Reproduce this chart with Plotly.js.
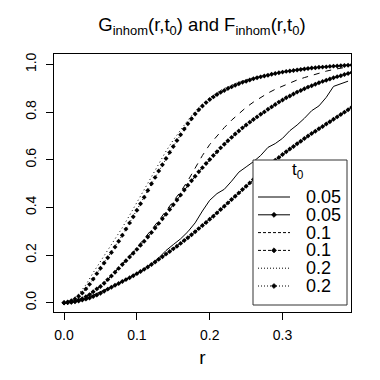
<!DOCTYPE html>
<html>
<head>
<meta charset="utf-8">
<script src="https://cdn.plot.ly/plotly-3.0.1.min.js"></script>
<style>
    html, body { margin: 0; padding: 0; background: #fff; }
    #chart { width: 380px; height: 380px; }
</style>
</head>
<body>
<div id="chart"></div>
<script>
// =======! data !=======
// distance grid for the G curves (lines only)
const r_coarse = [0.00, 0.01, 0.02, 0.03, 0.04, 0.05, 0.06, 0.07, 0.08, 0.09,
    0.10, 0.11, 0.12, 0.13, 0.14, 0.15, 0.16, 0.17, 0.18, 0.19,
    0.20, 0.21, 0.22, 0.23, 0.24, 0.25, 0.26, 0.27, 0.28, 0.29,
    0.30, 0.31, 0.32, 0.33, 0.34, 0.35, 0.36, 0.37, 0.38, 0.39];

// distance grid for the F curves (lines + points)
const r_fine = [0.000, 0.005, 0.010, 0.015, 0.020, 0.025, 0.030, 0.035, 0.040, 0.045,
    0.050, 0.055, 0.060, 0.065, 0.070, 0.075, 0.080, 0.085, 0.090, 0.095,
    0.100, 0.105, 0.110, 0.115, 0.120, 0.125, 0.130, 0.135, 0.140, 0.145,
    0.150, 0.155, 0.160, 0.165, 0.170, 0.175, 0.180, 0.185, 0.190, 0.195,
    0.200, 0.205, 0.210, 0.215, 0.220, 0.225, 0.230, 0.235, 0.240, 0.245,
    0.250, 0.255, 0.260, 0.265, 0.270, 0.275, 0.280, 0.285, 0.290, 0.295,
    0.300, 0.305, 0.310, 0.315, 0.320, 0.325, 0.330, 0.335, 0.340, 0.345,
    0.350, 0.355, 0.360, 0.365, 0.370, 0.375, 0.380, 0.385, 0.390, 0.395];

const g_005 = [0.000, 0.002, 0.008, 0.018, 0.032, 0.046, 0.058, 0.073, 0.088, 0.104,
    0.121, 0.142, 0.162, 0.188, 0.219, 0.244, 0.268, 0.298, 0.335, 0.385,
    0.430, 0.458, 0.476, 0.510, 0.548, 0.570, 0.592, 0.618, 0.652, 0.668,
    0.690, 0.722, 0.746, 0.774, 0.806, 0.826, 0.862, 0.908, 0.918, 0.930];

const g_01 = [0.000, 0.003, 0.012, 0.026, 0.046, 0.070, 0.098, 0.130, 0.163, 0.197,
    0.232, 0.268, 0.306, 0.345, 0.385, 0.425, 0.466, 0.512, 0.565, 0.618,
    0.664, 0.700, 0.735, 0.766, 0.795, 0.820, 0.842, 0.862, 0.880, 0.896,
    0.910, 0.923, 0.935, 0.945, 0.955, 0.964, 0.972, 0.979, 0.985, 0.990];

const g_02 = [0.000, 0.010, 0.036, 0.075, 0.126, 0.172, 0.218, 0.265, 0.315, 0.367,
    0.421, 0.477, 0.531, 0.584, 0.636, 0.683, 0.726, 0.766, 0.803, 0.834,
    0.860, 0.882, 0.900, 0.914, 0.926, 0.936, 0.945, 0.953, 0.960, 0.966,
    0.971, 0.976, 0.980, 0.984, 0.987, 0.990, 0.992, 0.994, 0.996, 0.998];

const f_005 = [0.000, 0.001, 0.002, 0.004, 0.007, 0.011, 0.015, 0.020, 0.026, 0.032,
    0.040, 0.048, 0.057, 0.065, 0.073, 0.081, 0.089, 0.097, 0.105, 0.113,
    0.122, 0.131, 0.140, 0.150, 0.160, 0.171, 0.182, 0.193, 0.204, 0.215,
    0.226, 0.237, 0.249, 0.261, 0.273, 0.285, 0.298, 0.311, 0.324, 0.337,
    0.350, 0.363, 0.377, 0.391, 0.405, 0.419, 0.433, 0.447, 0.461, 0.475,
    0.489, 0.503, 0.517, 0.531, 0.545, 0.559, 0.572, 0.585, 0.598, 0.610,
    0.622, 0.634, 0.645, 0.656, 0.667, 0.678, 0.689, 0.700, 0.710, 0.720,
    0.730, 0.740, 0.750, 0.760, 0.770, 0.780, 0.790, 0.800, 0.810, 0.820];

const f_01 = [0.000, 0.001, 0.003, 0.006, 0.011, 0.017, 0.025, 0.034, 0.046, 0.058,
    0.068, 0.082, 0.097, 0.112, 0.128, 0.144, 0.160, 0.176, 0.192, 0.208,
    0.224, 0.241, 0.258, 0.276, 0.295, 0.314, 0.333, 0.352, 0.371, 0.391,
    0.411, 0.431, 0.452, 0.473, 0.493, 0.512, 0.531, 0.550, 0.567, 0.584,
    0.601, 0.618, 0.634, 0.650, 0.665, 0.680, 0.694, 0.708, 0.721, 0.734,
    0.746, 0.758, 0.769, 0.780, 0.791, 0.801, 0.812, 0.822, 0.832, 0.842,
    0.851, 0.860, 0.868, 0.876, 0.884, 0.891, 0.898, 0.905, 0.911, 0.917,
    0.923, 0.929, 0.934, 0.939, 0.944, 0.949, 0.953, 0.958, 0.962, 0.966];

const f_02 = [0.000, 0.003, 0.008, 0.016, 0.027, 0.041, 0.058, 0.077, 0.099, 0.122,
    0.145, 0.167, 0.189, 0.211, 0.234, 0.258, 0.283, 0.309, 0.335, 0.361,
    0.388, 0.415, 0.443, 0.471, 0.499, 0.526, 0.553, 0.579, 0.605, 0.631,
    0.656, 0.681, 0.705, 0.729, 0.751, 0.772, 0.792, 0.810, 0.826, 0.840,
    0.853, 0.864, 0.874, 0.883, 0.891, 0.899, 0.906, 0.913, 0.919, 0.925,
    0.930, 0.935, 0.940, 0.944, 0.948, 0.952, 0.955, 0.959, 0.962, 0.965,
    0.968, 0.971, 0.973, 0.975, 0.977, 0.979, 0.981, 0.983, 0.985, 0.986,
    0.988, 0.989, 0.990, 0.992, 0.993, 0.994, 0.995, 0.996, 0.997, 0.998];

const legend_labels = ['0.05', '0.05', '0.1', '0.1', '0.2', '0.2'];
const x_ticks = [0, 0.1, 0.2, 0.3];
const x_tick_text = ['0.0', '0.1', '0.2', '0.3'];
const y_ticks = [0, 0.2, 0.4, 0.6, 0.8, 1.0];
const y_tick_text = ['0.0', '0.2', '0.4', '0.6', '0.8', '1.0'];

// =======! styles !=======
const FONT = '"Liberation Sans", Arial, Helvetica, sans-serif';
const DASHES = ['solid', '6px,6px', '1px,3px'];
const LEGEND_DASHES = ['solid', '3px,2px', '1px,2px'];

const W = 380, H = 380;
const M = {l: 54, r: 29, t: 54, b: 68};
const PW = W - M.l - M.r;
const PH = H - M.t - M.b;

// pixel -> paper coords (for the hand made legend)
const px = x => (x - M.l) / PW;
const py = y => (H - M.b - y) / PH;

const g_line = (x, y, dash) => ({
    x: x, y: y,
    type: 'scatter', mode: 'lines',
    line: {color: 'black', width: 1, dash: dash},
    showlegend: false
});

const f_points = (x, y, dash) => ({
    x: x, y: y,
    type: 'scatter', mode: 'lines+markers',
    line: {color: 'black', width: 1, dash: dash},
    marker: {symbol: 'diamond', size: 3.8, color: 'black'},
    showlegend: false
});

const traces = [
    g_line(r_coarse, g_005, DASHES[0]),
    f_points(r_fine, f_005, DASHES[0]),
    g_line(r_coarse, g_01, DASHES[1]),
    f_points(r_fine, f_01, DASHES[1]),
    g_line(r_coarse, g_02, DASHES[2]),
    f_points(r_fine, f_02, DASHES[2])
];

// =======! legend (R style: tight rows) !=======
const shapes = [{
    type: 'rect', xref: 'paper', yref: 'paper',
    x0: px(253), x1: px(347), y0: py(305), y1: py(160),
    line: {color: '#333', width: 1}, fillcolor: 'white', layer: 'above'
}];
const annotations = [{
    text: 't<sub>0</sub>', xref: 'paper', yref: 'paper',
    x: px(298), y: py(171), xanchor: 'center', yanchor: 'middle',
    showarrow: false, font: {family: FONT, size: 17, color: 'black'}
}];

const ROW0 = 197, ROW_STEP = 17.8;
legend_labels.forEach((label, i) => {
    const yy = ROW0 + i * ROW_STEP;
    shapes.push({
        type: 'line', xref: 'paper', yref: 'paper', layer: 'above',
        x0: px(258), x1: px(290), y0: py(yy), y1: py(yy),
        line: {color: 'black', width: 1, dash: LEGEND_DASHES[Math.floor(i / 2)]}
    });
    if (i % 2 === 1) {
        const cx = 274, d = 2.6;
        shapes.push({
            type: 'path', xref: 'paper', yref: 'paper', layer: 'above',
            path: 'M' + px(cx) + ',' + py(yy - d) + ' L' + px(cx + d) + ',' + py(yy) +
                ' L' + px(cx) + ',' + py(yy + d) + ' L' + px(cx - d) + ',' + py(yy) + ' Z',
            fillcolor: 'black', line: {color: 'black', width: 0.5}
        });
    }
    annotations.push({
        text: label, xref: 'paper', yref: 'paper',
        x: px(304), y: py(yy), xanchor: 'left', yanchor: 'middle',
        showarrow: false, font: {family: FONT, size: 18, color: 'black'}
    });
});

const axis_common = {
    showgrid: false,
    zeroline: false,
    showline: true,
    mirror: true,
    linecolor: 'black',
    linewidth: 1,
    ticks: 'outside',
    ticklen: 7,
    tickwidth: 1,
    tickcolor: 'black',
    tickfont: {family: FONT, size: 14, color: 'black'}
};

const layout = {
    width: W,
    height: H,
    margin: M,
    paper_bgcolor: 'white',
    plot_bgcolor: 'white',
    font: {family: FONT, color: 'black'},
    showlegend: false,
    title: {
        text: 'G<sub>inhom</sub>(r,t<sub>0</sub>) and F<sub>inhom</sub>(r,t<sub>0</sub>)',
        font: {family: FONT, size: 18.5, color: 'black'},
        x: (202 / W), xanchor: 'center',
        y: 1 - 25 / H, yanchor: 'middle'
    },
    xaxis: Object.assign({}, axis_common, {
        range: [-0.0138, 0.394],
        tickvals: x_ticks,
        ticktext: x_tick_text,
        ticklabelstandoff: 3,
        title: {text: 'r', font: {family: FONT, size: 19, color: 'black'}, standoff: 8}
    }),
    yaxis: Object.assign({}, axis_common, {
        range: [-0.039, 1.044],
        tickvals: y_ticks,
        ticktext: y_tick_text,
        tickangle: -90,
        ticklabelstandoff: 4
    }),
    shapes: shapes,
    annotations: annotations
};

Plotly.newPlot('chart', traces, layout, {staticPlot: true, displayModeBar: false});
</script>
</body>
</html>
